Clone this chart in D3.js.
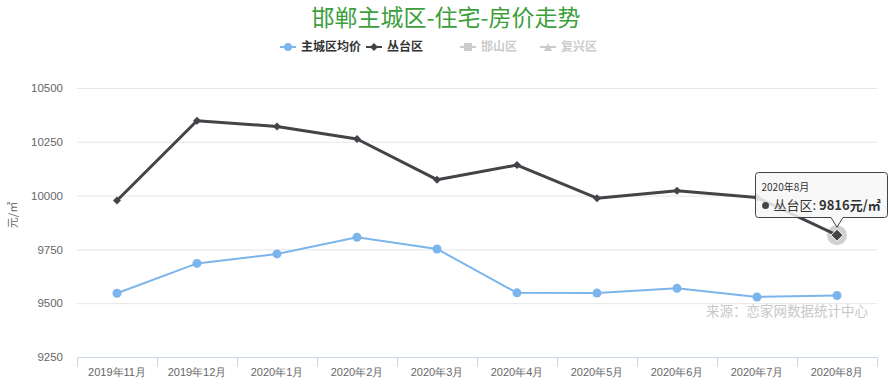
<!DOCTYPE html>
<html>
<head>
<meta charset="utf-8">
<style>
body{margin:0;background:#fff;font-family:"Noto Sans CJK SC","Noto Sans",sans-serif;}
.grid line{stroke:#e6e6e6;}
.tick text{fill:#666;font-size:11px;}
</style>
</head>
<body>
<svg width="892" height="389"></svg>
<script src="https://cdn.jsdelivr.net/npm/d3@7"></script>
<script>
var months = ["2019年11月","2019年12月","2020年1月","2020年2月","2020年3月","2020年4月","2020年5月","2020年6月","2020年7月","2020年8月"];
var mainCity = [9546,9685,9729,9806,9752,9548,9547,9569,9529,9536];
var congtai = [9977,10348,10321,10263,10074,10142,9988,10023,9991,9816];
var yTicks = [9250,9500,9750,10000,10250,10500];
var legendNames = ["主城区均价","丛台区","邯山区","复兴区"];

var svg = d3.select("svg");
var plotL = 77, plotR = 877, plotT = 88, plotB = 357;

var x = d3.scaleBand().domain(months).range([plotL, plotR]);
var y = d3.scaleLinear().domain([9250,10500]).range([plotB, plotT]);

// title
svg.append("text").attr("x",446).attr("y",26).attr("text-anchor","middle")
  .style("font-size","23px").style("fill","#3c9f3c").text("邯郸主城区-住宅-房价走势");

// legend
var legX = [280, 366, 460, 540];
var lg = svg.append("g");
legendNames.forEach(function(n,i){
  var g = lg.append("g").attr("transform","translate("+legX[i]+",47)");
  var col = i==0 ? "#7cb5ec" : (i==1 ? "#434348" : "#cccccc");
  g.append("line").attr("x1",0).attr("x2",16).attr("stroke",col).attr("stroke-width",2);
  if(i==0) g.append("circle").attr("cx",8).attr("r",4).attr("fill",col);
  if(i==1) g.append("path").attr("d","M8,-4L12,0L8,4L4,0Z").attr("fill",col);
  if(i==2) g.append("rect").attr("x",4).attr("y",-4).attr("width",8).attr("height",8).attr("fill",col);
  if(i==3) g.append("path").attr("d","M8,-4L12,4L4,4Z").attr("fill",col);
  g.append("text").attr("x",21).attr("y",4).style("font-size","12px").style("font-weight","bold")
    .style("fill", i<2 ? "#333" : "#ccc").text(n);
});

// grid
svg.append("g").attr("class","grid").selectAll("line").data(yTicks.slice(1)).enter().append("line")
  .attr("x1",plotL).attr("x2",plotR).attr("y1",d=>y(d)+0.5).attr("y2",d=>y(d)+0.5);

// y axis
var ya = svg.append("g").attr("transform","translate("+(plotL-14)+",0)")
  .call(d3.axisLeft(y).tickValues(yTicks).tickFormat(d3.format("d")).tickSize(0).tickPadding(0));
ya.select(".domain").remove();
ya.selectAll("text").style("font-size","11.5px");

svg.append("text").attr("transform","translate(17,215) rotate(-90)").attr("text-anchor","middle")
  .style("font-size","11px").style("fill","#666").text("元/㎡");

// x axis
var xa = svg.append("g").attr("transform","translate(0,"+plotB+")")
  .call(d3.axisBottom(x).tickSize(0).tickPadding(11));
xa.select(".domain").attr("stroke","#ccd6eb");
xa.selectAll("text").style("font-size","11px");
svg.append("g").selectAll("line").data(months.concat(["end"])).enter().append("line")
  .attr("x1",(d,i)=>plotL + i*x.bandwidth()+0.5).attr("x2",(d,i)=>plotL + i*x.bandwidth()+0.5)
  .attr("y1",plotB).attr("y2",plotB+10).attr("stroke","#ccd6eb");

// source
svg.append("text").attr("x",868).attr("y",316).attr("text-anchor","end")
  .style("font-size","13.5px").style("fill","#c8c8c8").text("来源：恋家网数据统计中心");

var cx = d => x(d) + x.bandwidth()/2;

// main city line
svg.append("path").datum(mainCity)
  .attr("d", d3.line().x((d,i)=>cx(months[i])).y(d=>y(d)))
  .attr("fill","none").attr("stroke","#7cb5ec").attr("stroke-width",2);
svg.append("g").selectAll("circle").data(mainCity).enter().append("circle")
  .attr("cx",(d,i)=>cx(months[i])).attr("cy",d=>y(d)).attr("r",4.5).attr("fill","#7cb5ec");

// congtai line
svg.append("path").datum(congtai)
  .attr("d", d3.line().x((d,i)=>cx(months[i])).y(d=>y(d)))
  .attr("fill","none").attr("stroke","#434348").attr("stroke-width",3).attr("stroke-linejoin","round");

var last = congtai.length-1;
svg.append("circle").attr("cx",cx(months[last])).attr("cy",y(congtai[last])).attr("r",10)
  .attr("fill","#434348").attr("opacity",0.25);
svg.append("g").selectAll("path").data(congtai).enter().append("path")
  .attr("transform",(d,i)=>"translate("+cx(months[i])+","+y(d)+")")
  .attr("d",(d,i)=> i==last ? "M0,-6L6,0L0,6L-6,0Z" : "M0,-4L4,0L0,4L-4,0Z")
  .attr("fill","#434348").attr("stroke", (d,i)=> i==last ? "#fff":"none").attr("stroke-width",1);

// tooltip
var px = cx(months[last]), py = y(congtai[last]);
var tx = 755.5, ty = 172.5, tw = 132, th = 45;
var tip = svg.append("g");
tip.append("path")
  .attr("d","M"+(tx+3)+","+ty+"H"+(tx+tw-3)+"Q"+(tx+tw)+","+ty+" "+(tx+tw)+","+(ty+3)+"V"+(ty+th-3)
    +"Q"+(tx+tw)+","+(ty+th)+" "+(tx+tw-3)+","+(ty+th)+"H"+(px+6)+"L"+px+","+(py-8)+"L"+(px-6)+","+(ty+th)
    +"H"+(tx+3)+"Q"+tx+","+(ty+th)+" "+tx+","+(ty+th-3)+"V"+(ty+3)+"Q"+tx+","+ty+" "+(tx+3)+","+ty+"Z")
  .attr("fill","rgba(247,247,247,0.85)").attr("stroke","#434348").attr("stroke-width",1);
tip.append("text").attr("x",tx+6).attr("y",ty+18).style("font-size","10px").style("fill","#333").text(months[last]);
tip.append("circle").attr("cx",tx+10).attr("cy",ty+33).attr("r",3.5).attr("fill","#434348");
var t2 = tip.append("text").attr("x",tx+18).attr("y",ty+37.5).style("font-size","13px").style("fill","#333");
t2.append("tspan").text("丛台区: ");
t2.append("tspan").style("font-weight","bold").text(congtai[last]+"元/㎡");
</script>
</body>
</html>
